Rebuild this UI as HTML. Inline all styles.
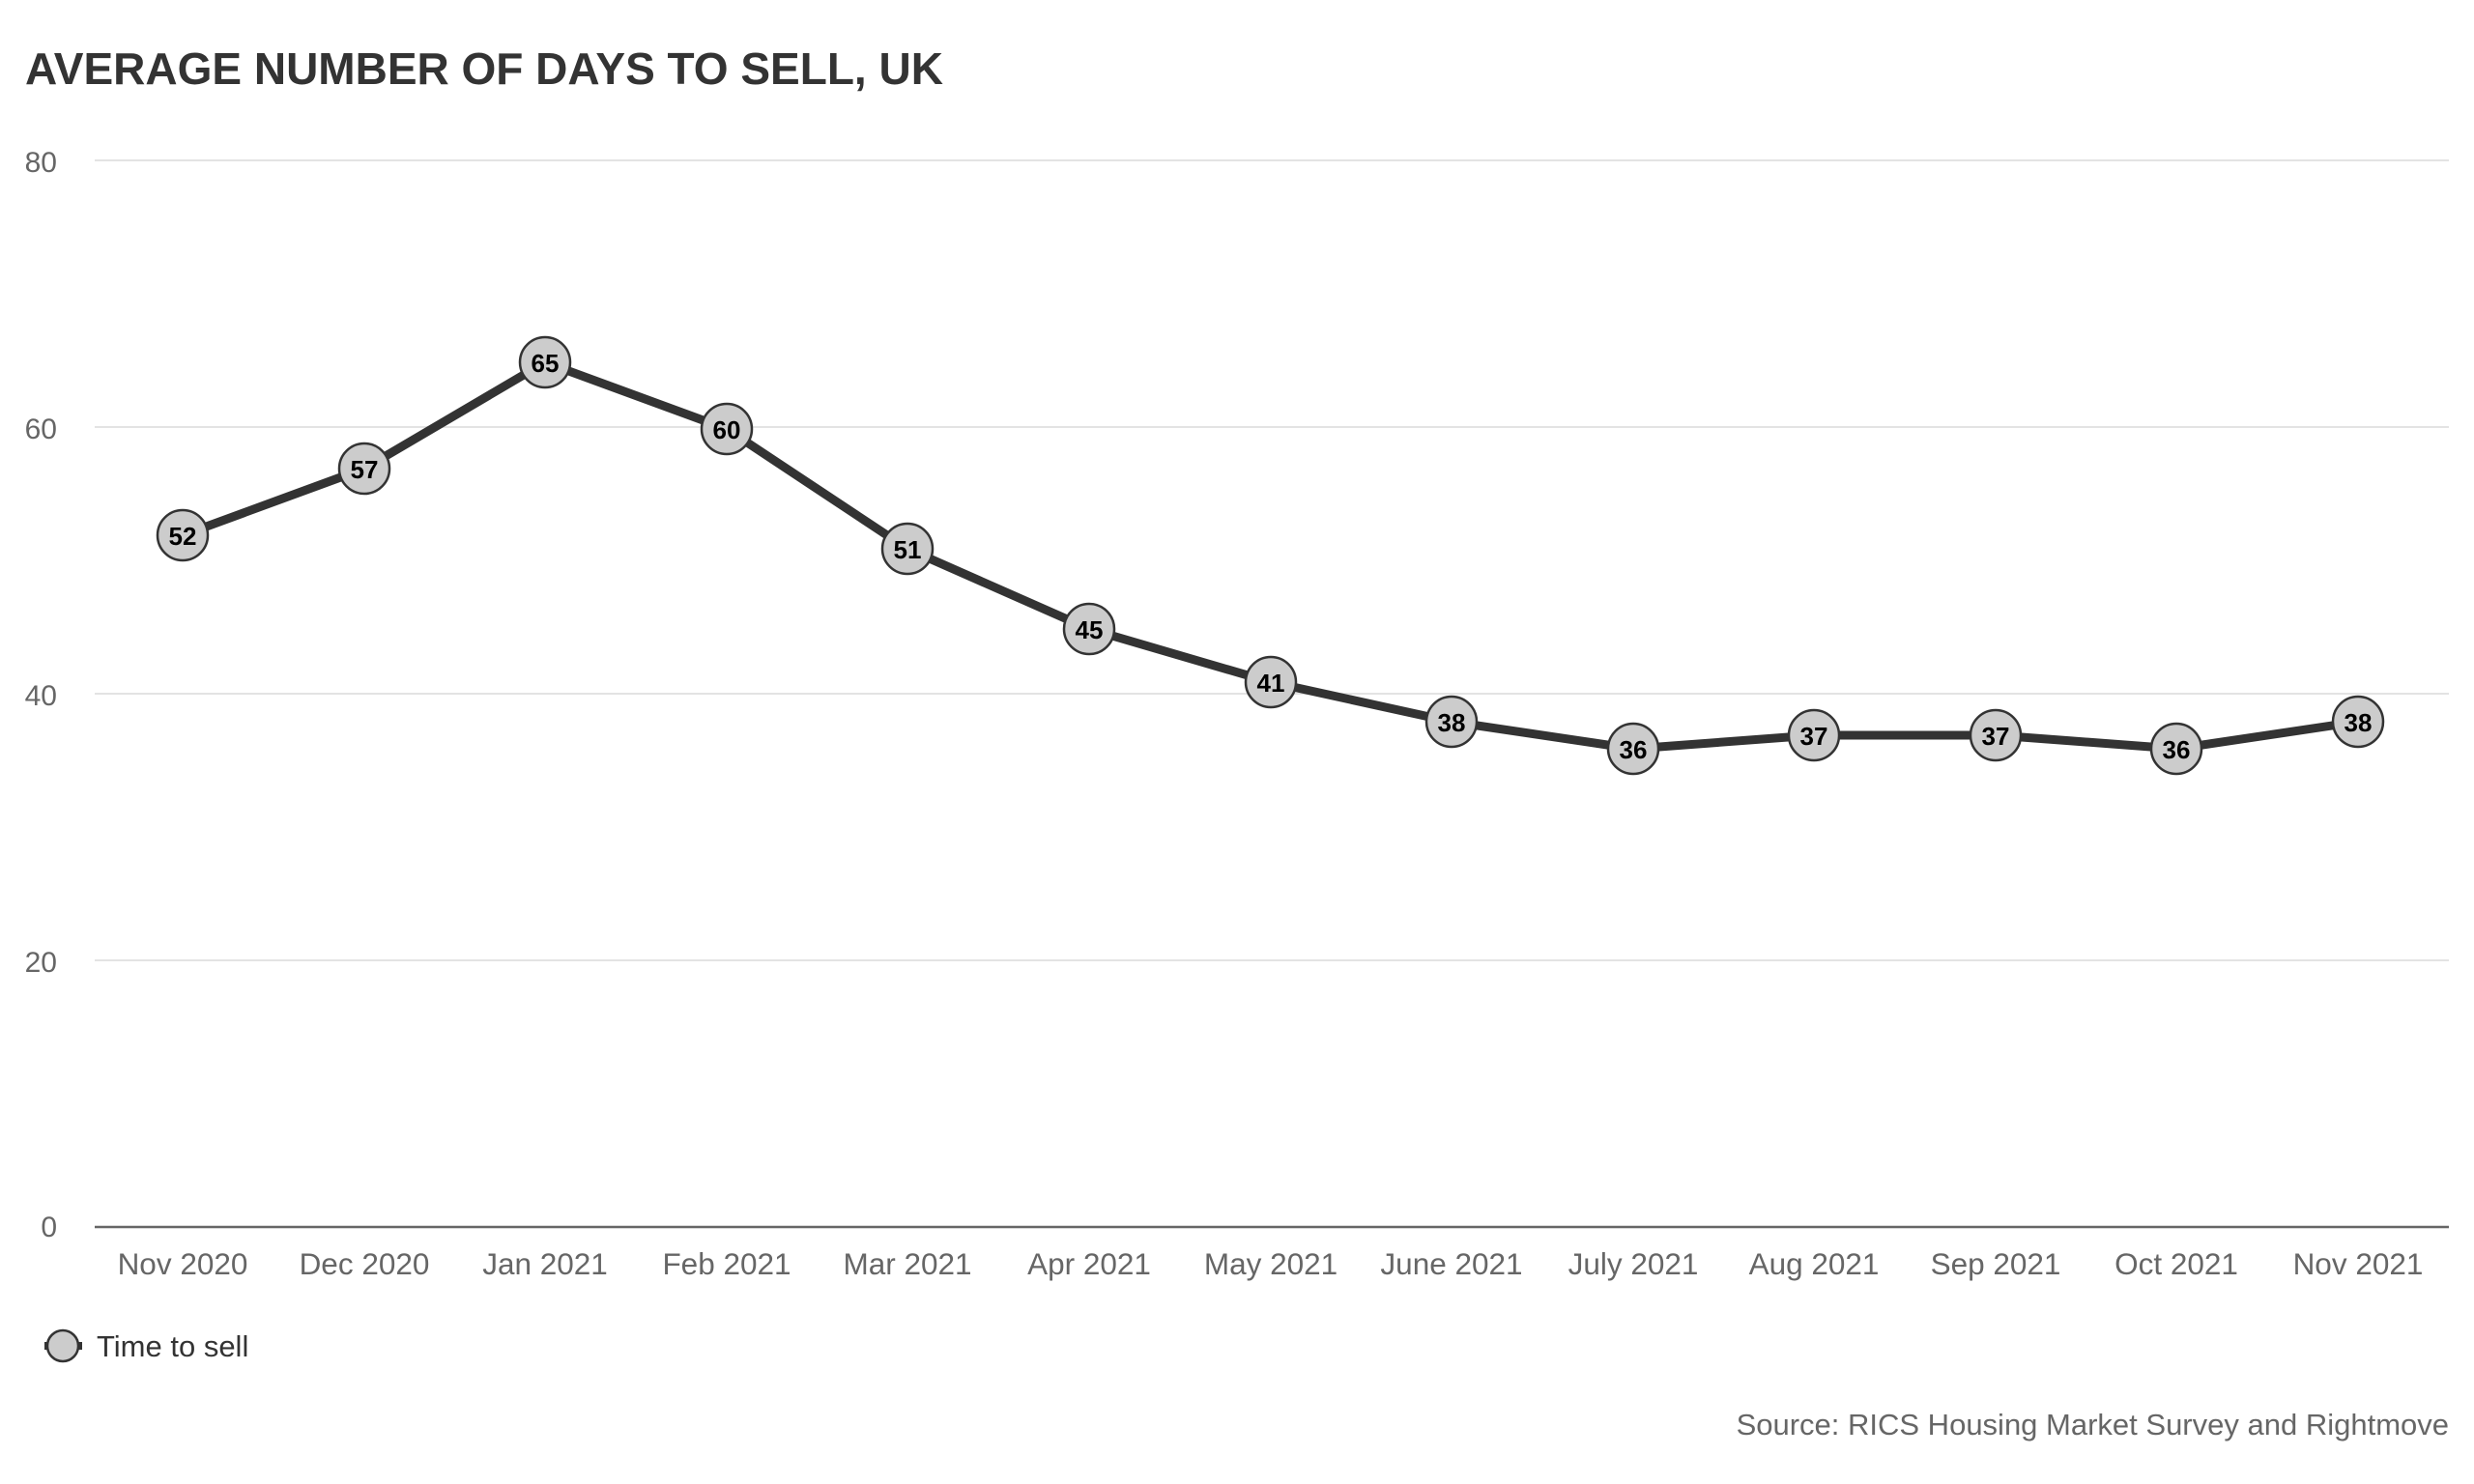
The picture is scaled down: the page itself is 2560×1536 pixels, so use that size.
<!DOCTYPE html>
<html><head><meta charset="utf-8"><style>
html,body{margin:0;padding:0;background:#fff;}
svg{display:block;font-family:"Liberation Sans",Arial,sans-serif;}
</style></head><body>
<svg width="2560" height="1536" viewBox="0 0 2560 1536" xmlns="http://www.w3.org/2000/svg">
<rect width="2560" height="1536" fill="#fff"/>
<text x="26" y="87" font-size="46" font-weight="bold" fill="#333">AVERAGE NUMBER OF DAYS TO SELL, UK</text>
<g stroke="#e3e3e3" stroke-width="2">
<line x1="98" y1="166" x2="2534" y2="166"/>
<line x1="98" y1="442" x2="2534" y2="442"/>
<line x1="98" y1="718" x2="2534" y2="718"/>
<line x1="98" y1="994" x2="2534" y2="994"/>
</g>
<line x1="98" y1="1270" x2="2534" y2="1270" stroke="#666" stroke-width="2.5"/>
<g font-size="30" fill="#666" text-anchor="end">
<text x="59" y="178">80</text>
<text x="59" y="454">60</text>
<text x="59" y="730">40</text>
<text x="59" y="1006">20</text>
<text x="59" y="1280">0</text>
</g>
<g font-size="31.5" fill="#666" text-anchor="middle">
<text x="189" y="1319">Nov 2020</text>
<text x="377" y="1319">Dec 2020</text>
<text x="564" y="1319">Jan 2021</text>
<text x="752" y="1319">Feb 2021</text>
<text x="939" y="1319">Mar 2021</text>
<text x="1127" y="1319">Apr 2021</text>
<text x="1315" y="1319">May 2021</text>
<text x="1502" y="1319">June 2021</text>
<text x="1690" y="1319">July 2021</text>
<text x="1877" y="1319">Aug 2021</text>
<text x="2065" y="1319">Sep 2021</text>
<text x="2252" y="1319">Oct 2021</text>
<text x="2440" y="1319">Nov 2021</text>
</g>
<polyline fill="none" stroke="#333" stroke-width="9" stroke-linejoin="round" points="189,554 377,485 564,375 752,444 939,568 1127,651 1315,706 1502,747 1690,775 1877,761 2065,761 2252,775 2440,747"/>
<g fill="#cccccc" stroke="#333" stroke-width="2.5">
<circle cx="189" cy="554" r="26"/>
<circle cx="377" cy="485" r="26"/>
<circle cx="564" cy="375" r="26"/>
<circle cx="752" cy="444" r="26"/>
<circle cx="939" cy="568" r="26"/>
<circle cx="1127" cy="651" r="26"/>
<circle cx="1315" cy="706" r="26"/>
<circle cx="1502" cy="747" r="26"/>
<circle cx="1690" cy="775" r="26"/>
<circle cx="1877" cy="761" r="26"/>
<circle cx="2065" cy="761" r="26"/>
<circle cx="2252" cy="775" r="26"/>
<circle cx="2440" cy="747" r="26"/>
</g>
<g font-size="26" font-weight="bold" fill="#000" text-anchor="middle">
<text x="189" y="564">52</text>
<text x="377" y="495">57</text>
<text x="564" y="385">65</text>
<text x="752" y="454">60</text>
<text x="939" y="578">51</text>
<text x="1127" y="661">45</text>
<text x="1315" y="716">41</text>
<text x="1502" y="757">38</text>
<text x="1690" y="785">36</text>
<text x="1877" y="771">37</text>
<text x="2065" y="771">37</text>
<text x="2252" y="785">36</text>
<text x="2440" y="757">38</text>
</g>
<line x1="46" y1="1393" x2="85" y2="1393" stroke="#333" stroke-width="8"/>
<circle cx="65" cy="1393" r="16" fill="#cccccc" stroke="#333" stroke-width="2.5"/>
<text x="100" y="1404" font-size="31" fill="#333">Time to sell</text>
<text x="2534" y="1485" font-size="31" fill="#666" text-anchor="end">Source: RICS Housing Market Survey and Rightmove</text>
</svg>
</body></html>
